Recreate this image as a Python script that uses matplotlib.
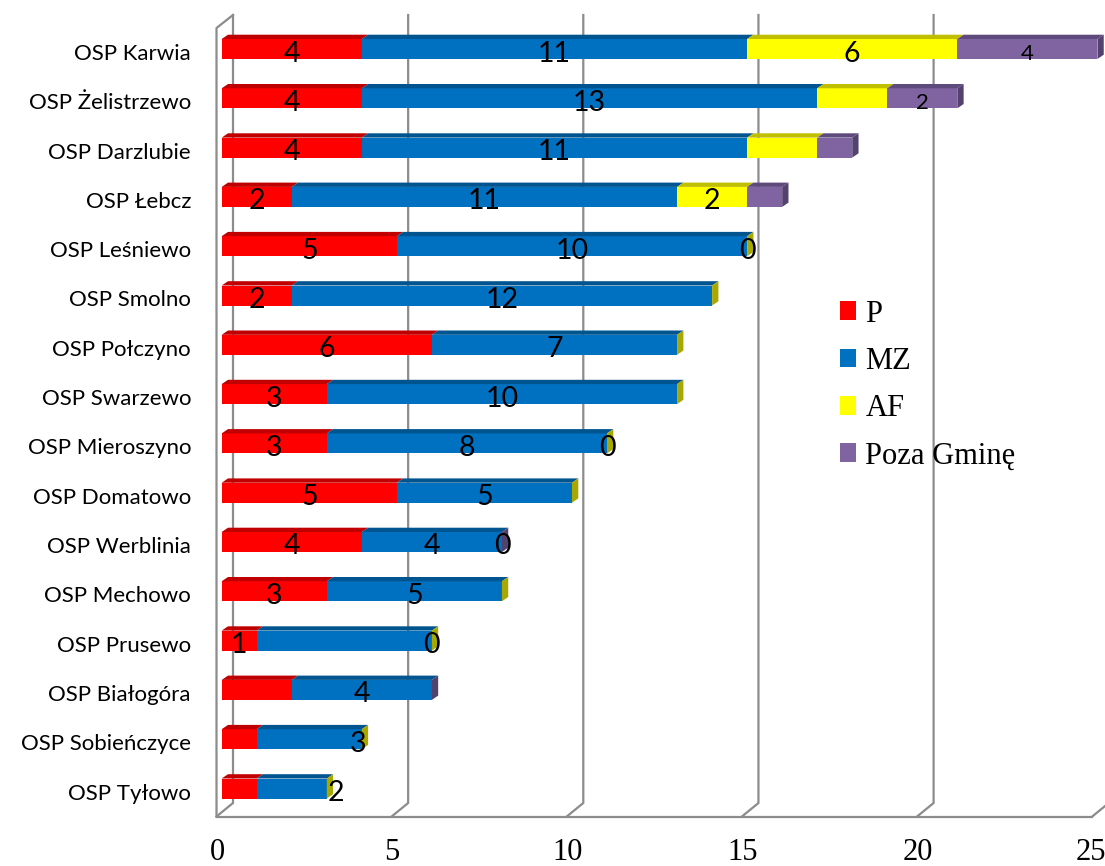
import numpy as np
import matplotlib
matplotlib.use('Agg')
import matplotlib.pyplot as plt
from matplotlib.patches import Polygon, Patch

nan = np.nan

# data
stations = ['OSP Karwia', 'OSP Żelistrzewo', 'OSP Darzlubie', 'OSP Łebcz', 'OSP Leśniewo',
            'OSP Smolno', 'OSP Połczyno', 'OSP Swarzewo', 'OSP Mieroszyno', 'OSP Domatowo',
            'OSP Werblinia', 'OSP Mechowo', 'OSP Prusewo', 'OSP Białogóra', 'OSP Sobieńczyce',
            'OSP Tyłowo']
P = [4, 4, 4, 2, 5, 2, 6, 3, 3, 5, 4, 3, 1, 2, 1, 1]
MZ = [11, 13, 11, 11, 10, 12, 7, 10, 8, 5, 4, 5, 5, 4, 3, 2]
AF = [6, 2, 2, 2, 0, 0, 0, 0, 0, 0, 0, 0, 0, nan, 0, 0]
POZA = [4, 2, 1, 1, nan, nan, nan, nan, nan, nan, 0, nan, nan, 0, nan, nan]
series_names = ['P', 'MZ', 'AF', 'Poza Gminę']
x_ticks = [0, 5, 10, 15, 20, 25]

# which value labels are visible
show_P = [1, 1, 1, 1, 1, 1, 1, 1, 1, 1, 1, 1, 1, 0, 0, 0]
show_MZ = [1, 1, 1, 1, 1, 1, 1, 1, 1, 1, 1, 1, 0, 1, 1, 1]
show_AF = [1, 0, 0, 1, 1, 0, 0, 0, 1, 0, 1, 0, 1, 0, 0, 0]
show_POZA = [1, 1, 0, 0, 0, 0, 0, 0, 0, 0, 0, 0, 0, 0, 0, 0]

front = ['#FF0000', '#0070C0', '#FFFF00', '#8064A2']
top = ['#C00000', '#00548F', '#BFBF00', '#5E4A7C']
side = ['#B00000', '#004A80', '#A8A800', '#54426E']

# pixel layout of the original
X0, SX = 221.7, 35.03
Y0, SY = 49.0, 49.3
def px2x(px):
    return (px - X0) / SX
def px2y(py):
    return (py - Y0) / SY

fig = plt.figure(figsize=(11.05, 8.66), dpi=100)
ax = fig.add_axes([200 / 1105, 0, 905 / 1105, 1])
ax.set_xlim(px2x(200), px2x(1105))
ax.set_ylim(px2y(866), px2y(0))
ax.axis('off')

grid_c = '#8C8C8C'
lw = 1.6
# walls and gridlines (3d look)
back_off = px2x(233)
front_off = px2x(216.5)
yb_top, yb_bot, yf_top, yf_bot = px2y(15), px2y(803), px2y(28), px2y(816.5)
for v in x_ticks:
    ax.plot([v + back_off, v + back_off, v + front_off], [yb_top, yb_bot, yf_bot],
            color=grid_c, lw=lw, zorder=1, solid_joinstyle='miter')
ax.plot([back_off, front_off, front_off], [yb_top, yf_top, yf_bot], color=grid_c, lw=lw, zorder=1)
ax.plot([front_off, x_ticks[-1] + front_off], [yf_bot, yf_bot], color=grid_c, lw=lw, zorder=1)

# bars
data = [P, MZ, AF, POZA]
shows = [show_P, show_MZ, show_AF, show_POZA]
h = 20 / SY
dx, dy = 6.3 / SX, 4.3 / SY
label_nudge = {(14, 1): 1.4, (15, 1): 1.25}
lab_font = 'Lato'

for i, name in enumerate(stations):
    left = 0.0
    last = 0
    for s in range(4):
        w = data[s][i]
        if np.isnan(w):
            continue
        last = s
        if w > 0:
            ax.barh(i, w, left=left, height=h, color=front[s], edgecolor='none', zorder=3)
            yt = i - h / 2
            ax.add_patch(Polygon([(left, yt), (left + w, yt), (left + w + dx, yt - dy), (left + dx, yt - dy)],
                                 closed=True, facecolor=top[s], edgecolor='none', zorder=3))
        if shows[s][i]:
            xc = left + w / 2 + label_nudge.get((i, s), 0)
            ax.text(xc, i + 4.5 / SY, f'{w:g}', ha='center', va='center',
                    fontsize=16 if s == 3 else 20.5, family=lab_font, color='black', zorder=5)
        left += w
    yt, yb = i - h / 2, i + h / 2
    ax.add_patch(Polygon([(left, yt), (left + dx, yt - dy), (left + dx, yb - dy), (left, yb)],
                         closed=True, facecolor=side[last], edgecolor='none', zorder=4))
    ax.text(px2x(191), i + 5 / SY, name, ha='right', va='center', fontsize=16,
            family=lab_font, clip_on=False)

# x tick labels (last one pulled in a little so it stays on the canvas)
for v in x_ticks:
    xx = v + px2x(217) - (2 / SX if v == x_ticks[-1] else 0)
    ax.text(xx, px2y(853), str(v), ha='center', va='center', fontsize=22,
            family='Liberation Serif', clip_on=False)

handles = [Patch(facecolor=c, edgecolor='none') for c in front]
fig.legend(handles, series_names, loc='upper left', bbox_to_anchor=(812 / 1105, 1 - 272 / 866),
           frameon=False, prop={'family': 'Liberation Serif', 'size': 22},
           handlelength=0.55, handleheight=0.55, handletextpad=0.3, labelspacing=0.6)

fig.savefig('out.png', dpi=100)
